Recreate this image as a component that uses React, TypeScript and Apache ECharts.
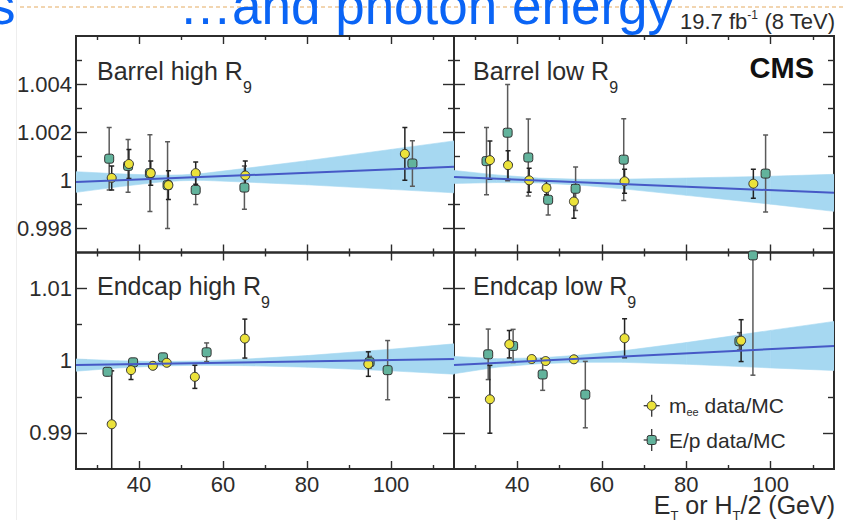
import React, { useEffect, useRef } from "react";
import * as echarts from "echarts";

// ---- axes ----
const X_MIN = 25;
const X_MAX = 115;
const xMajor = [40, 60, 80, 100];
const xMinor = [30, 50, 70, 90, 110];

const barrelMin = 0.997;
const barrelMax = 1.006;
const barrelMajor = [0.998, 1, 1.002, 1.004];
const barrelMinor = [0.999, 1.001, 1.003, 1.005];

const endcapMin = 0.985;
const endcapMax = 1.015;
const endcapMajor = [0.99, 1, 1.01];
const endcapMinor = [0.995, 1.005];

// ---- Barrel high R9 ----
const bhMeeX = [33.5, 37.6, 42.8, 47.0, 53.5, 65.3, 103.3];
const bhMeeY = [1.0001, 1.00068, 1.0003, 0.9998, 1.0003, 1.0002, 1.0011];
const bhMeeErr = [0.0005, 0.0006, 0.0005, 0.0006, 0.00046, 0.0006, 0.0011];
const bhEpX = [32.9, 37.4, 42.6, 46.8, 53.5, 65.1, 105.1];
const bhEpY = [1.0009, 1.0006, 1.0003, 0.9998, 0.9996, 0.9997, 1.0007];
const bhEpErr = [0.0013, 0.0011, 0.0016, 0.0018, 0.0006, 0.0009, 0.00095];
const bhFit = [0.99993, 1.00056];
const bhBandX = [25, 35, 45, 50, 55, 65, 80, 100, 115];
const bhBandHalf = [0.00043, 0.00027, 0.00014, 0.00012, 0.00014, 0.00028, 0.0005, 0.00083, 0.00108];

// ---- Barrel low R9 ----
const blMeeX = [33.5, 37.8, 42.8, 46.9, 53.4, 65.4, 95.9];
const blMeeY = [1.00084, 1.00063, 1.0, 0.99968, 0.99912, 0.99996, 0.99986];
const blMeeErr = [0.0008, 0.0006, 0.0005, 0.00028, 0.0007, 0.0005, 0.0006];
const blEpX = [32.7, 37.7, 42.6, 47.3, 53.8, 65.2, 98.8];
const blEpY = [1.0008, 1.00198, 1.00095, 0.99919, 0.99965, 1.00086, 1.00028];
const blEpErr = [0.0014, 0.002, 0.0016, 0.00063, 0.0009, 0.0017, 0.0016];
const blFit = [1.00014, 0.99948];
const blBandX = [25, 35, 45, 55, 65, 80, 100, 115];
const blBandHalf = [0.00027, 0.00016, 0.0001, 0.00012, 0.0002, 0.00036, 0.00058, 0.00077];

// ---- Endcap high R9 ----
const ehMeeX = [33.5, 38.1, 43.3, 46.6, 53.3, 65.2, 94.6];
const ehMeeY = [0.9912, 0.9987, 0.9993, 0.99972, 0.99777, 1.00307, 0.99954];
const ehMeeErr = [0.0074, 0.0013, 0.0004, 0.0004, 0.0016, 0.0027, 0.0017];
const ehEpX = [32.5, 38.6, 45.7, 56.1, 94.9, 99.2];
const ehEpY = [0.99847, 0.99978, 1.00047, 1.00117, 0.9998, 0.9987];
const ehEpErr = [0.0005, 0.0005, 0.0004, 0.0013, 0.0008, 0.0041];
const ehFit = [0.9994, 1.00024];
const ehBandX = [25, 35, 45, 55, 65, 80, 100, 115];
const ehBandHalf = [0.00085, 0.0005, 0.0003, 0.0003, 0.00045, 0.0008, 0.0015, 0.0021];

// ---- Endcap low R9 ----
const elMeeX = [33.5, 38.1, 43.4, 46.7, 53.4, 65.4, 93.0];
const elMeeY = [0.99466, 1.00229, 1.00024, 0.99996, 1.0002, 1.00312, 1.00279];
const elMeeErr = [0.0047, 0.0019, 0.0003, 0.0003, 0.0003, 0.0027, 0.0029];
const elEpX = [33.1, 39.0, 46.0, 56.1, 92.6, 95.8];
const elEpY = [1.00089, 1.00205, 0.9981, 0.99531, 1.0027, 1.0146];
const elEpErr = [0.0035, 0.0023, 0.0022, 0.0046, 0.0012, 0.0166];
const elFit = [0.9994, 1.00205];
const elBandX = [25, 35, 45, 55, 65, 80, 100, 115];
const elBandHalf = [0.0012, 0.0006, 0.0004, 0.0005, 0.0008, 0.0015, 0.0026, 0.0034];

const FONT = "'Liberation Sans', Arial, Helvetica, sans-serif";
const INK = "#2c2c2c";
const YELLOW = "#ebe23a";
const TEAL = "#62b39c";
const BAND = "#a6d8f1";
const FIT = "#4659c6";

type Panel = {
  left: number;
  top: number;
  width: number;
  height: number;
  yMin: number;
  yMax: number;
  yMajor: number[];
  yMinor: number[];
  xLabels: boolean;
  yLabels: boolean;
  meeX: number[];
  meeY: number[];
  meeErr: number[];
  epX: number[];
  epY: number[];
  epErr: number[];
  fit: number[];
  bandX: number[];
  bandHalf: number[];
};

const TOP_Y = 36;
const MID_Y = 252.5;
const BOT_Y = 469;

const panels: Panel[] = [
  {
    left: 76, top: TOP_Y, width: 378, height: MID_Y - TOP_Y,
    yMin: barrelMin, yMax: barrelMax, yMajor: barrelMajor, yMinor: barrelMinor,
    xLabels: false, yLabels: true,
    meeX: bhMeeX, meeY: bhMeeY, meeErr: bhMeeErr, epX: bhEpX, epY: bhEpY, epErr: bhEpErr,
    fit: bhFit, bandX: bhBandX, bandHalf: bhBandHalf,
  },
  {
    left: 454, top: TOP_Y, width: 380, height: MID_Y - TOP_Y,
    yMin: barrelMin, yMax: barrelMax, yMajor: barrelMajor, yMinor: barrelMinor,
    xLabels: false, yLabels: false,
    meeX: blMeeX, meeY: blMeeY, meeErr: blMeeErr, epX: blEpX, epY: blEpY, epErr: blEpErr,
    fit: blFit, bandX: blBandX, bandHalf: blBandHalf,
  },
  {
    left: 76, top: MID_Y, width: 378, height: BOT_Y - MID_Y,
    yMin: endcapMin, yMax: endcapMax, yMajor: endcapMajor, yMinor: endcapMinor,
    xLabels: true, yLabels: true,
    meeX: ehMeeX, meeY: ehMeeY, meeErr: ehMeeErr, epX: ehEpX, epY: ehEpY, epErr: ehEpErr,
    fit: ehFit, bandX: ehBandX, bandHalf: ehBandHalf,
  },
  {
    left: 454, top: MID_Y, width: 380, height: BOT_Y - MID_Y,
    yMin: endcapMin, yMax: endcapMax, yMajor: endcapMajor, yMinor: endcapMinor,
    xLabels: true, yLabels: false,
    meeX: elMeeX, meeY: elMeeY, meeErr: elMeeErr, epX: elEpX, epY: elEpY, epErr: elEpErr,
    fit: elFit, bandX: elBandX, bandHalf: elBandHalf,
  },
];

const tickLine = { color: INK, width: 1.4 };
const fmt = (v: number) => String(parseFloat(v.toFixed(4)));

function buildXAxes(p: Panel, gridIndex: number) {
  const base = {
    type: "value",
    gridIndex,
    min: X_MIN,
    max: X_MAX,
    splitLine: { show: false },
    axisLine: { show: false },
  };
  const tick = (values: number[], length: number) => ({
    show: true, inside: true, length, customValues: values, lineStyle: tickLine,
  });
  return [
    {
      ...base,
      position: "bottom",
      axisTick: tick(xMajor, 8),
      axisLabel: p.xLabels
        ? { show: true, customValues: xMajor, color: INK, fontSize: 22, fontFamily: FONT, margin: 4 }
        : { show: false },
    },
    { ...base, position: "bottom", axisTick: tick(xMinor, 4), axisLabel: { show: false } },
    { ...base, position: "top", axisTick: tick(xMajor, 8), axisLabel: { show: false } },
    { ...base, position: "top", axisTick: tick(xMinor, 4), axisLabel: { show: false } },
  ];
}

function buildYAxes(p: Panel, gridIndex: number) {
  const base = {
    type: "value",
    gridIndex,
    min: p.yMin,
    max: p.yMax,
    splitLine: { show: false },
    axisLine: { show: false },
  };
  const tick = (values: number[], length: number) => ({
    show: true, inside: true, length, customValues: values, lineStyle: tickLine,
  });
  return [
    {
      ...base,
      position: "left",
      axisTick: tick(p.yMajor, 11),
      axisLabel: p.yLabels
        ? {
            show: true, customValues: p.yMajor, color: INK, fontSize: 22, fontFamily: FONT,
            margin: 4, formatter: (v: number) => fmt(v),
          }
        : { show: false },
    },
    { ...base, position: "left", axisTick: tick(p.yMinor, 6), axisLabel: { show: false } },
    { ...base, position: "right", axisTick: tick(p.yMajor, 11), axisLabel: { show: false } },
    { ...base, position: "right", axisTick: tick(p.yMinor, 6), axisLabel: { show: false } },
  ];
}

// Fit uncertainty band: one quadrilateral between each pair of neighbouring knots.
function bandSeries(p: Panel, g: number) {
  const center = (x: number) => p.fit[0] + ((p.fit[1] - p.fit[0]) * (x - X_MIN)) / (X_MAX - X_MIN);
  const knots = p.bandX.map((x, i) => [x, center(x) - p.bandHalf[i], center(x) + p.bandHalf[i]]);
  return {
    type: "custom",
    xAxisIndex: g * 4,
    yAxisIndex: g * 4,
    clip: true,
    silent: true,
    data: knots.slice(0, -1).map((k, i) => [k[0], k[1], k[2], knots[i + 1][0], knots[i + 1][1], knots[i + 1][2]]),
    renderItem: (_params: any, api: any) => {
      const a = api.coord([api.value(0), api.value(1)]);
      const b = api.coord([api.value(0), api.value(2)]);
      const c = api.coord([api.value(3), api.value(5)]);
      const d = api.coord([api.value(3), api.value(4)]);
      return {
        type: "polygon",
        shape: { points: [a, b, c, d] },
        style: { fill: BAND, stroke: BAND, lineWidth: 0.6 },
      };
    },
  };
}

function errorBarSeries(xs: number[], ys: number[], errs: number[], g: number, color: string) {
  return {
    type: "custom",
    xAxisIndex: g * 4,
    yAxisIndex: g * 4,
    clip: true,
    silent: true,
    data: xs.map((x, i) => [x, ys[i] - errs[i], ys[i] + errs[i]]),
    renderItem: (_params: any, api: any) => {
      const x = api.value(0);
      const lo = api.coord([x, api.value(1)]);
      const hi = api.coord([x, api.value(2)]);
      const cap = 2.5;
      const style = { stroke: color, lineWidth: 1.5 };
      return {
        type: "group",
        children: [
          { type: "line", shape: { x1: lo[0], y1: lo[1], x2: hi[0], y2: hi[1] }, style },
          { type: "line", shape: { x1: lo[0] - cap, y1: lo[1], x2: lo[0] + cap, y2: lo[1] }, style },
          { type: "line", shape: { x1: hi[0] - cap, y1: hi[1], x2: hi[0] + cap, y2: hi[1] }, style },
        ],
      };
    },
  };
}

function buildSeries(p: Panel, g: number) {
  const axes = { xAxisIndex: g * 4, yAxisIndex: g * 4 };
  return [
    bandSeries(p, g),
    {
      type: "line", ...axes, symbol: "none", silent: true,
      lineStyle: { color: FIT, width: 2 },
      data: [[X_MIN, p.fit[0]], [X_MAX, p.fit[1]]],
    },
    errorBarSeries(p.epX, p.epY, p.epErr, g, "#5a5a5a"),
    errorBarSeries(p.meeX, p.meeY, p.meeErr, g, "#222"),
    {
      type: "scatter", ...axes, symbol: "roundRect", symbolSize: 9, silent: true,
      itemStyle: { color: TEAL, borderColor: "#333", borderWidth: 1, opacity: 1 },
      data: p.epX.map((x, i) => [x, p.epY[i]]),
    },
    {
      type: "scatter", ...axes, symbol: "circle", symbolSize: 9, silent: true,
      itemStyle: { color: YELLOW, borderColor: "#333", borderWidth: 1, opacity: 1 },
      data: p.meeX.map((x, i) => [x, p.meeY[i]]),
    },
  ];
}

function panelTitle(text: string, x: number, y: number) {
  return {
    type: "text",
    x,
    y,
    z: 10,
    style: {
      text: text + "{sub|9}",
      font: `25px ${FONT}`,
      fill: INK,
      verticalAlign: "top",
      lineHeight: 49,
      rich: { sub: { fontSize: 16, lineHeight: 16, verticalAlign: "bottom", fill: INK, fontFamily: FONT } },
    },
  };
}

function legendEntry(y: number, color: string, square: boolean, label: string) {
  const cx = 651.7;
  return [
    { type: "line", z: 10, shape: { x1: cx, y1: y - 11, x2: cx, y2: y + 11 }, style: { stroke: "#333", lineWidth: 1.3 } },
    { type: "line", z: 10, shape: { x1: cx - 8, y1: y, x2: cx + 8, y2: y }, style: { stroke: "#333", lineWidth: 1.3 } },
    square
      ? { type: "rect", z: 10, shape: { x: cx - 4.5, y: y - 4.5, width: 9, height: 9, r: 2 }, style: { fill: color, stroke: "#333", lineWidth: 1 } }
      : { type: "circle", z: 10, shape: { cx, cy: y, r: 4.5 }, style: { fill: color, stroke: "#333", lineWidth: 1 } },
    {
      type: "text",
      z: 10,
      x: 669,
      y: y - 12,
      style: {
        text: label,
        font: `21px ${FONT}`,
        fill: INK,
        verticalAlign: "top",
        lineHeight: 24,
        rich: { sub: { fontSize: 11, lineHeight: 11, verticalAlign: "bottom", fill: INK, fontFamily: FONT } },
      },
    },
  ];
}

export default function App() {
  const ref = useRef<HTMLDivElement>(null);

  useEffect(() => {
    if (!ref.current) return;
    const chart = echarts.init(ref.current, null, { renderer: "svg" });

    const xAxis: any[] = [];
    const yAxis: any[] = [];
    const series: any[] = [];
    panels.forEach((p, g) => {
      xAxis.push(...buildXAxes(p, g));
      yAxis.push(...buildYAxes(p, g));
      series.push(...buildSeries(p, g));
    });

    chart.setOption({
      animation: false,
      backgroundColor: "#ffffff",
      grid: panels.map((p) => ({
        left: p.left,
        top: p.top,
        width: p.width,
        height: p.height,
        show: true,
        borderColor: INK,
        borderWidth: 2,
        backgroundColor: "transparent",
      })),
      xAxis,
      yAxis,
      series,
      graphic: [
        { type: "line", shape: { x1: 16.5, y1: 0, x2: 16.5, y2: 520 }, style: { stroke: "#eeeeee", lineWidth: 1 } },
        {
          type: "line",
          shape: { x1: 20, y1: 7, x2: 846, y2: 7 },
          style: { stroke: "#eec896", lineWidth: 1.5, lineDash: [4, 3] },
        },
        {
          type: "text", x: -11, y: 5.5,
          style: { text: "s", font: `53px ${FONT}`, fill: "#0a64f5", verticalAlign: "middle" },
        },
        {
          type: "text", x: 179, y: 5.5,
          style: { text: "\u2026and photon energy", font: `53px ${FONT}`, fill: "#0a64f5", verticalAlign: "middle" },
        },
        {
          type: "text", x: 835, y: 9,
          style: {
            text: "19.7 fb{sup|-1} (8 TeV)",
            font: `22px ${FONT}`,
            fill: INK,
            align: "right",
            verticalAlign: "top",
            lineHeight: 24,
            rich: { sup: { fontSize: 12, lineHeight: 12, verticalAlign: "top", fill: INK, fontFamily: FONT } },
          },
        },
        {
          type: "text", x: 814, y: 68.3, z: 10,
          style: { text: "CMS", font: `bold 29px ${FONT}`, fill: "#111", align: "right", verticalAlign: "middle" },
        },
        panelTitle("Barrel high R", 97, 46.3),
        panelTitle("Barrel low R", 473, 46.3),
        panelTitle("Endcap high R", 97, 261.6),
        panelTitle("Endcap low R", 473, 261.6),
        ...legendEntry(405.7, YELLOW, false, "m{sub|ee} data/MC"),
        ...legendEntry(440, TEAL, true, "E/p data/MC"),
        {
          type: "text", x: 835, y: 488.5,
          style: {
            text: "E{sub|T} or H{sub|T}/2 (GeV)",
            font: `25px ${FONT}`,
            fill: INK,
            align: "right",
            verticalAlign: "top",
            lineHeight: 33,
            rich: { sub: { fontSize: 13, lineHeight: 13, verticalAlign: "bottom", fill: INK, fontFamily: FONT } },
          },
        },
      ],
    });

    return () => chart.dispose();
  }, []);

  return (
    <div
      ref={ref}
      style={{ position: "fixed", left: 0, top: 0, width: 846, height: 520, background: "#fff" }}
    />
  );
}
